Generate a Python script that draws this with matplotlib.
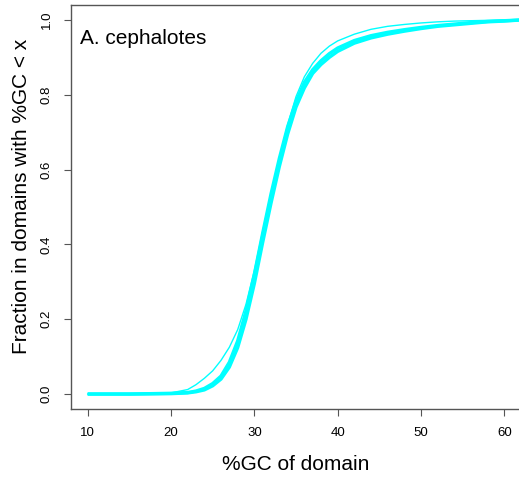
import matplotlib
matplotlib.use("Agg")
import matplotlib.pyplot as plt

plt.rcParams['font.family'] = ['Liberation Sans', 'DejaVu Sans']

# %GC grid and ECDF values
gc = [10, 15, 20, 22, 23, 24, 25, 26, 27, 28, 29, 30, 31, 32, 33, 34, 35, 36, 37,
      38, 39, 40, 42, 44, 46, 48, 50, 52, 54, 56, 58, 60, 62]

band_a = [0, 0, 0.002, 0.004, 0.008, 0.015, 0.028, 0.048, 0.085, 0.142, 0.222, 0.32,
          0.43, 0.535, 0.63, 0.715, 0.782, 0.833, 0.867, 0.891, 0.91, 0.925, 0.945,
          0.958, 0.967, 0.974, 0.98, 0.985, 0.989, 0.993, 0.996, 0.998, 1.0]
band_b = [0, 0, 0.001, 0.003, 0.006, 0.011, 0.022, 0.04, 0.072, 0.124, 0.2, 0.295,
          0.405, 0.51, 0.608, 0.695, 0.767, 0.818, 0.857, 0.881, 0.9, 0.916, 0.938,
          0.952, 0.962, 0.97, 0.977, 0.983, 0.987, 0.991, 0.995, 0.997, 1.0]
thin = [0, 0, 0.003, 0.012, 0.025, 0.042, 0.062, 0.09, 0.125, 0.172, 0.24, 0.33,
        0.435, 0.535, 0.63, 0.72, 0.795, 0.848, 0.884, 0.911, 0.93, 0.944, 0.962,
        0.975, 0.983, 0.988, 0.992, 0.995, 0.997, 0.998, 0.999, 1.0, 1.0]

xticks = [10, 20, 30, 40, 50, 60]
yticks = [0.0, 0.2, 0.4, 0.6, 0.8, 1.0]

fig = plt.figure(figsize=(5.19, 4.83), dpi=100)
ax = fig.add_axes([71 / 519, 74 / 483, 450 / 519, 404 / 483])

ax.plot(gc, band_a, color='cyan', lw=2.4, solid_capstyle='butt')
ax.plot(gc, band_b, color='cyan', lw=2.4, solid_capstyle='butt')
ax.plot(gc, thin, color='cyan', lw=1.0)

ax.set_xlim(8, 62)
ax.set_ylim(-0.04, 1.04)

ax.set_xticks(xticks)
ax.set_xticklabels([str(t) for t in xticks])
ax.set_yticks(yticks)
ax.set_yticklabels(['%.1f' % t for t in yticks], rotation=90, va='center')
ax.tick_params(labelsize=9.5, length=5, width=0.8, color='#555555', pad=8)

for side in ['left', 'bottom', 'top']:
    ax.spines[side].set_color('#555555')
    ax.spines[side].set_linewidth(1.0)
ax.spines['right'].set_visible(False)

ax.set_xlabel('%GC of domain', fontsize=15)
ax.set_ylabel('Fraction in domains with %GC < x', fontsize=15)
ax.xaxis.set_label_coords(0.5, -0.115)
ax.yaxis.set_label_coords(-0.089, 0.527)

ax.text(0.02, 0.903, 'A. cephalotes', transform=ax.transAxes, fontsize=15,
        va='baseline', ha='left')

fig.savefig('out.png', dpi=100)
